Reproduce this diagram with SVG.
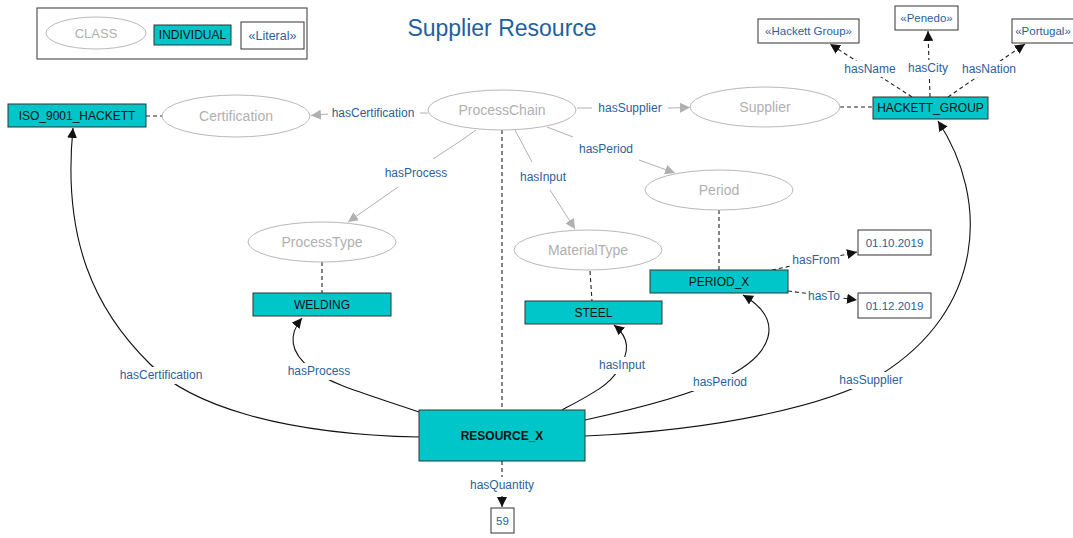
<svg xmlns="http://www.w3.org/2000/svg" width="1073" height="538" viewBox="0 0 1073 538">
  <style>
    text { font-family: "Liberation Sans", Arial, sans-serif; text-anchor: middle; dominant-baseline: central; }
    .cls { fill: #ffffff; stroke: #b8b8b8; stroke-width: 1; }
    .clsT { fill: #b0b0b0; font-size: 14px; }
    .ind { fill: #00c6c9; stroke: #333; stroke-width: 1; }
    .indT { fill: #111; font-size: 12px; }
    .lit { fill: #fff; stroke: #333; stroke-width: 1; }
    .litT { fill: #2b5f9e; font-size: 11.5px; }
    .lbl { fill: #2b5f9e; font-size: 12px; }
    .gline { fill: none; stroke: #b0b0b0; stroke-width: 1; }
    .dash { fill: none; stroke: #222; stroke-width: 1.1; stroke-dasharray: 4 3; }
    .solid { fill: none; stroke: #111; stroke-width: 1.1; }
    .bg { fill: #fff; }
  </style>
  <defs>
    <marker id="arrBlack" viewBox="0 0 10 10" refX="10" refY="5" markerWidth="10" markerHeight="10" markerUnits="userSpaceOnUse" orient="auto">
      <path d="M0,0 L10,5 L0,10 z" fill="#111"/>
    </marker>
    <marker id="arrGrey" viewBox="0 0 10 10" refX="10" refY="5" markerWidth="10" markerHeight="10" markerUnits="userSpaceOnUse" orient="auto">
      <path d="M0,0 L10,5 L0,10 z" fill="#b0b0b0"/>
    </marker>
  </defs>

  <!-- legend -->
  <g id="legend">
    <rect x="37" y="8" width="270" height="51" fill="#fff" stroke="#555" stroke-width="1.2"/>
    <ellipse class="cls" cx="96" cy="33" rx="50" ry="16"/>
    <text class="clsT" x="96" y="33" style="font-size:13px">CLASS</text>
    <rect class="ind" x="154" y="25" width="77" height="20"/>
    <text class="indT" x="192.5" y="35">INDIVIDUAL</text>
    <rect class="lit" x="241" y="22" width="63" height="27"/>
    <text class="litT" x="272.5" y="36" style="font-size:12.5px">«Literal»</text>
  </g>

  <text x="502" y="28" style="font-size:23px;fill:#1f5fa0">Supplier Resource</text>

  <!-- connectors -->
  <g id="connectors">
    <!-- class-level properties -->
    <path class="gline" d="M428,113 L420,113"/>
    <path class="gline" d="M328,114 L311,115.5" marker-end="url(#arrGrey)"/>
    <path class="gline" d="M577,108 L592,108"/>
    <path class="gline" d="M668,108 L690,107.5" marker-end="url(#arrGrey)"/>
    <path class="gline" d="M547,127 L573,137"/>
    <path class="gline" d="M639,160 L675,173" marker-end="url(#arrGrey)"/>
    <path class="gline" d="M462,140 L433,159"/>
    <path class="gline" d="M476,130 L462,140"/>
    <path class="gline" d="M398,187 L348,222" marker-end="url(#arrGrey)"/>
    <path class="gline" d="M515,130 L532,162"/>
    <path class="gline" d="M550,190 L575,229" marker-end="url(#arrGrey)"/>

    <!-- class to individual typing -->
    <path class="dash" d="M146,116 L162,116"/>
    <path class="dash" d="M840,107 L873,107"/>
    <path class="dash" d="M322,262 L322,293"/>
    <path class="dash" d="M590,271 L592,301"/>
    <path class="dash" d="M719,210 L719,270"/>
    <path class="dash" d="M502,130 L502,410"/>

    <!-- literal properties -->
    <path class="dash" d="M912,97 L830,44" marker-end="url(#arrBlack)"/>
    <path class="dash" d="M930,97 L928,31" marker-end="url(#arrBlack)"/>
    <path class="dash" d="M948,97 L1025,44" marker-end="url(#arrBlack)"/>
    <path class="dash" d="M772,270 L857,252" marker-end="url(#arrBlack)"/>
    <path class="dash" d="M788,291 L857,300" marker-end="url(#arrBlack)"/>
    <path class="dash" d="M502,461 L502,507" marker-end="url(#arrBlack)"/>

    <!-- object properties of RESOURCE_X -->
    <path class="solid" d="M419,437 C280,434 190,405 150,364 C95,310 62,240 73,128" marker-end="url(#arrBlack)"/>
    <path class="solid" d="M419,412 C370,395 330,385 310,368 C290,352 288,335 302,318" marker-end="url(#arrBlack)"/>
    <path class="solid" d="M562,410 C590,395 610,385 618,370 C630,352 630,338 614,325" marker-end="url(#arrBlack)"/>
    <path class="solid" d="M585,420 C640,408 690,395 720,380 C775,355 785,320 743,295" marker-end="url(#arrBlack)"/>
    <path class="solid" d="M585,436 C720,430 830,405 880,375 C985,310 990,200 938,121" marker-end="url(#arrBlack)"/>

    <!-- edge labels -->
    <rect class="bg" x="330" y="105" width="88" height="16"/>
    <text class="lbl" x="373" y="113">hasCertification</text>
    <text class="lbl" x="630" y="108">hasSupplier</text>
    <rect class="bg" x="577" y="141" width="58" height="16"/>
    <text class="lbl" x="606" y="149">hasPeriod</text>
    <text class="lbl" x="416" y="173">hasProcess</text>
    <rect class="bg" x="520" y="169" width="46" height="16"/>
    <text class="lbl" x="543" y="177">hasInput</text>
    <rect class="bg" x="842" y="61" width="56" height="16"/>
    <text class="lbl" x="870" y="69">hasName</text>
    <rect class="bg" x="906" y="60" width="44" height="16"/>
    <text class="lbl" x="928" y="68">hasCity</text>
    <rect class="bg" x="961" y="61" width="56" height="16"/>
    <text class="lbl" x="989" y="69">hasNation</text>
    <rect class="bg" x="792" y="252" width="48" height="16"/>
    <text class="lbl" x="816" y="260">hasFrom</text>
    <rect class="bg" x="807" y="288" width="34" height="16"/>
    <text class="lbl" x="824" y="296">hasTo</text>
    <rect class="bg" x="468" y="477" width="68" height="16"/>
    <text class="lbl" x="502" y="485">hasQuantity</text>
    <rect class="bg" x="108" y="367" width="106" height="17"/>
    <text class="lbl" x="161" y="375">hasCertification</text>
    <rect class="bg" x="284" y="363" width="70" height="17"/>
    <text class="lbl" x="319" y="371">hasProcess</text>
    <rect class="bg" x="596" y="357" width="52" height="17"/>
    <text class="lbl" x="622" y="365">hasInput</text>
    <rect class="bg" x="690" y="374" width="62" height="17"/>
    <text class="lbl" x="720" y="382">hasPeriod</text>
    <rect class="bg" x="836" y="372" width="72" height="17"/>
    <text class="lbl" x="871" y="380">hasSupplier</text>
  </g>

  <!-- classes -->
  <g id="ProcessChain"><ellipse class="cls" cx="502" cy="110" rx="74" ry="20"/><text class="clsT" x="502" y="110">ProcessChain</text></g>
  <g id="Certification"><ellipse class="cls" cx="236" cy="116" rx="74" ry="21"/><text class="clsT" x="236" y="116">Certification</text></g>
  <g id="Supplier"><ellipse class="cls" cx="765" cy="107" rx="75" ry="20"/><text class="clsT" x="765" y="107">Supplier</text></g>
  <g id="Period"><ellipse class="cls" cx="719" cy="190" rx="74" ry="20"/><text class="clsT" x="719" y="190">Period</text></g>
  <g id="ProcessType"><ellipse class="cls" cx="322" cy="242" rx="74" ry="20"/><text class="clsT" x="322" y="242">ProcessType</text></g>
  <g id="MaterialType"><ellipse class="cls" cx="588" cy="250" rx="74" ry="20"/><text class="clsT" x="588" y="250">MaterialType</text></g>

  <!-- individuals -->
  <g id="ISO_9001_HACKETT"><rect class="ind" x="8" y="104" width="138" height="23"/><text class="indT" x="77" y="115.5">ISO_9001_HACKETT</text></g>
  <g id="HACKETT_GROUP"><rect class="ind" x="873" y="97" width="115" height="22"/><text class="indT" x="930.5" y="108">HACKETT_GROUP</text></g>
  <g id="WELDING"><rect class="ind" x="253" y="293" width="138" height="23"/><text class="indT" x="322" y="304.5">WELDING</text></g>
  <g id="STEEL"><rect class="ind" x="525" y="301" width="137" height="23"/><text class="indT" x="593.5" y="312.5">STEEL</text></g>
  <g id="PERIOD_X"><rect class="ind" x="650" y="270" width="138" height="23"/><text class="indT" x="719" y="281.5">PERIOD_X</text></g>
  <g id="RESOURCE_X"><rect class="ind" x="419" y="410" width="166" height="51"/><text class="indT" x="502" y="435.5" style="font-weight:bold">RESOURCE_X</text></g>

  <!-- literals -->
  <g id="lit_hackett_group"><rect class="lit" x="758" y="19" width="101" height="24"/><text class="litT" x="808.5" y="31">«Hackett Group»</text></g>
  <g id="lit_penedo"><rect class="lit" x="895" y="6" width="63" height="24"/><text class="litT" x="926.5" y="18">«Penedo»</text></g>
  <g id="lit_portugal"><rect class="lit" x="1012" y="19" width="62" height="24"/><text class="litT" x="1043" y="31">«Portugal»</text></g>
  <g id="lit_from"><rect class="lit" x="858" y="230" width="73" height="25"/><text class="litT" x="894.5" y="242.5">01.10.2019</text></g>
  <g id="lit_to"><rect class="lit" x="858" y="293" width="73" height="25"/><text class="litT" x="894.5" y="305.5">01.12.2019</text></g>
  <g id="lit_quantity"><rect class="lit" x="491" y="508" width="23" height="25"/><text class="litT" x="502.5" y="520.5">59</text></g>
</svg>
